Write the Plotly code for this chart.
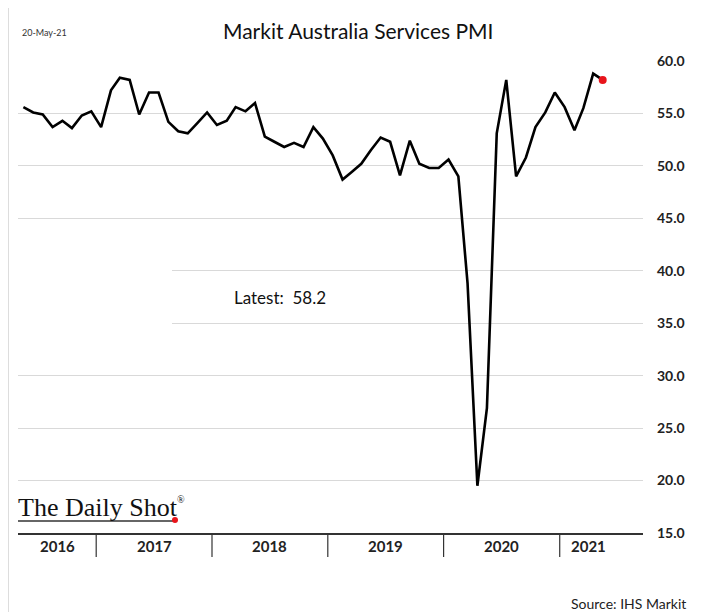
import plotly.graph_objects as go
import pandas as pd

# ---------------- data ----------------
months = pd.date_range("2016-05-01", periods=61, freq="MS")
pmi = [55.6, 55.1, 54.9, 53.7, 54.3, 53.6, 54.8, 55.2,
       53.7, 57.2, 58.4, 58.2, 54.9, 57.0, 57.0, 54.2, 53.3, 53.1, 54.1, 55.1,
       53.9, 54.3, 55.6, 55.2, 56.0, 52.8, 52.3, 51.8, 52.2, 51.8, 53.7, 52.6,
       51.0, 48.7, 49.4, 50.2, 51.5, 52.7, 52.3, 49.1, 52.4, 50.2, 49.8, 49.8,
       50.6, 49.0, 38.8, 19.5, 26.9, 53.1, 58.2, 49.0, 50.8, 53.7, 55.1, 57.0,
       55.6, 53.4, 55.5, 58.8, 58.2]
years = ["2016", "2017", "2018", "2019", "2020", "2021"]
y_ticks = [15, 20, 25, 30, 35, 40, 45, 50, 55, 60]
title = "Markit Australia Services PMI"
date_note = "20-May-21"
latest_label = "Latest:  58.2"
source = "Source: IHS Markit"

# ---------------- geometry ----------------
OFF = 8                     # page body margin in the browser
W, H = 712 - OFF, 612 - OFF
# plot area in screenshot pixels
L, R, T, B = 18, 643, 61, 533
x_start = pd.Timestamp("2016-04-14")
x_end = months[-1] + pd.Timedelta(days=127)


def px(x):
    return (x - L) / (R - L)


def py(y):
    return (B - y) / (B - T)


FONT = "Lato"

fig = go.Figure()
fig.add_trace(go.Scatter(x=months, y=pmi, mode="lines",
                         line=dict(color="black", width=2.6),
                         hoverinfo="x+y", showlegend=False))
fig.add_trace(go.Scatter(x=[months[-1]], y=[pmi[-1]], mode="markers",
                         marker=dict(color="#e8141b", size=8),
                         showlegend=False))

shapes = []
annotations = []

# year separators and labels
bounds = [x_start]
for yr in years[1:]:
    bounds.append(pd.Timestamp(f"{int(yr)-1}-12-16T12:00"))
bounds.append(months[-1] + pd.Timedelta(days=45))   # label band of last year
for i, yr in enumerate(years):
    if i > 0:
        shapes.append(dict(type="line", xref="x", yref="paper",
                           x0=bounds[i], x1=bounds[i], y0=py(533), y1=py(557),
                           line=dict(color="#333333", width=1.2)))
    mid = bounds[i] + (bounds[i + 1] - bounds[i]) / 2
    annotations.append(dict(x=mid, y=py(546), xref="x", yref="paper",
                            text=f"<b>{yr}</b>", showarrow=False,
                            xanchor="center", yanchor="middle",
                            font=dict(family=FONT, size=15, color="#222")))

# white box of the "Latest" text box, hiding part of two gridlines
shapes.append(dict(type="rect", xref="paper", yref="paper",
                   x0=px(17), x1=px(172), y0=py(335), y1=py(258),
                   fillcolor="white", line=dict(width=0), layer="above"))

# left border line
shapes.append(dict(type="line", xref="paper", yref="paper",
                   x0=px(8), x1=px(8), y0=py(612), y1=py(8),
                   line=dict(color="#bbbbbb", width=1)))

# Daily Shot logo underline + dot
shapes.append(dict(type="line", xref="paper", yref="paper",
                   x0=px(18), x1=px(175), y0=py(521), y1=py(521),
                   line=dict(color="#333333", width=1.4)))
shapes.append(dict(type="circle", xref="paper", yref="paper",
                   x0=px(172), x1=px(178), y0=py(517), y1=py(523),
                   fillcolor="#e8141b", line=dict(width=0)))

annotations += [
    dict(x=px(358), y=py(30), text=title, font=dict(family=FONT, size=21, color="#111")),
    dict(x=px(20), y=py(32), text=date_note, xanchor="left",
         font=dict(family=FONT, size=9, color="#333")),
    dict(x=px(232), y=py(297), text=latest_label, xanchor="left",
         font=dict(family=FONT, size=17, color="#111")),
    dict(x=px(688), y=py(603), text=source, xanchor="right",
         font=dict(family=FONT, size=14, color="#222")),
    dict(x=px(16), y=py(507), text="The Daily Shot", xanchor="left",
         font=dict(family="Liberation Serif", size=26, color="#111")),
    dict(x=px(175), y=py(499), text="®", xanchor="left",
         font=dict(family="Liberation Serif", size=10, color="#111")),
]
for a in annotations:
    a.setdefault("xref", "paper")
    a.setdefault("yref", "paper")
    a.setdefault("showarrow", False)
    a.setdefault("xanchor", "center")
    a.setdefault("yanchor", "middle")

fig.update_layout(
    width=W, height=H,
    margin=dict(l=L - OFF, r=712 - R, t=T - OFF, b=612 - B),
    paper_bgcolor="white", plot_bgcolor="white",
    shapes=shapes, annotations=annotations,
    showlegend=False,
    xaxis=dict(range=[x_start, x_end], showgrid=False, showticklabels=False,
               ticks="", showline=True, linecolor="#333333", linewidth=1.5,
               zeroline=False),
    yaxis=dict(range=[15, 60], side="right", tickvals=y_ticks,
               tickformat=".1f", showgrid=True, gridcolor="#d9d9d9",
               gridwidth=1, zeroline=False, ticks="", ticklabelstandoff=13,
               tickfont=dict(family=FONT, size=14, color="#222", weight="bold"),
               showline=False),
)

fig.write_html("out.html")
